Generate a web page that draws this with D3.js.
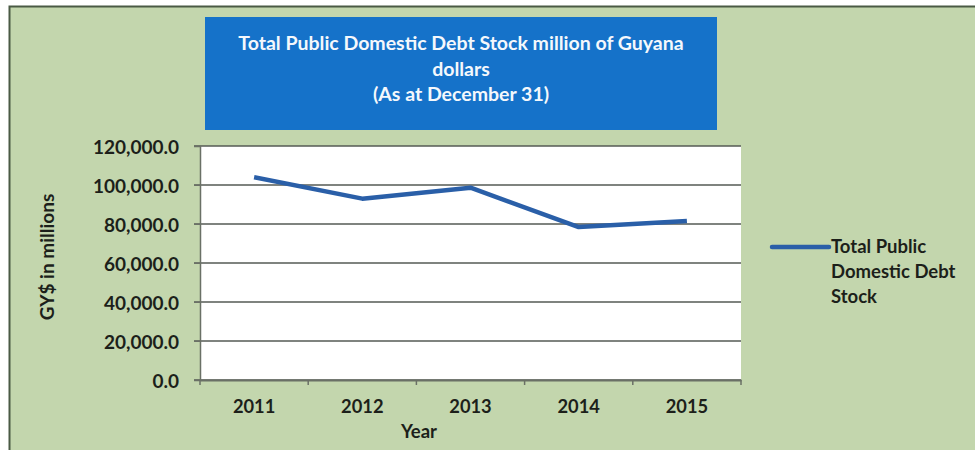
<!DOCTYPE html>
<html>
<head>
<meta charset="utf-8">
<script src="https://cdn.jsdelivr.net/npm/d3@7"></script>
<style>
  html, body { margin: 0; padding: 0; background: #ffffff; }
  svg { display: block; }
  text { font-family: Lato, "Open Sans", "DejaVu Sans", sans-serif; font-weight: 700; }
</style>
</head>
<body>
<svg id="chart" width="975" height="450"></svg>
<script>
// Series and labels
const years = ["2011", "2012", "2013", "2014", "2015"];
const debtStock = [104000, 93000, 98600, 78400, 81500];
const yTicks = [0, 20000, 40000, 60000, 80000, 100000, 120000];
const titleLines = ["Total Public Domestic Debt Stock million of Guyana", "dollars", "(As at December 31)"];
const legendLines = ["Total Public", "Domestic Debt", "Stock"];
const yAxisTitle = "GY$ in millions";
const xAxisTitle = "Year";

const svg = d3.select("#chart");
const W = 975, H = 450;
const ink = "#1c1f1a";
const lineBlue = "#2a5fa8";

// Chart area background with frame
svg.append("rect")
  .attr("x", 9.5).attr("y", 6.5)
  .attr("width", W).attr("height", H)
  .attr("fill", "#c3d6ad")
  .attr("stroke", "#4a5a44").attr("stroke-width", 2);

// Plot area
const plot = { left: 200, right: 741, top: 146, bottom: 380 };

const x = d3.scaleBand().domain(years).range([plot.left, plot.right]);
const y = d3.scaleLinear().domain([0, 120000]).range([plot.bottom, plot.top]);

svg.append("rect")
  .attr("x", plot.left).attr("y", plot.top)
  .attr("width", plot.right - plot.left).attr("height", plot.bottom - plot.top)
  .attr("fill", "#ffffff");

// Horizontal gridlines
svg.append("g")
  .selectAll("line")
  .data(yTicks)
  .join("line")
  .attr("x1", plot.left - 6).attr("x2", plot.right)
  .attr("y1", d => y(d)).attr("y2", d => y(d))
  .attr("stroke", "#555a55").attr("stroke-width", 1.6);

// Y axis
const fmt = v => d3.format(",.1f")(v);
const yAxis = svg.append("g")
  .attr("transform", `translate(${plot.left},0)`)
  .call(d3.axisLeft(y).tickValues(yTicks).tickFormat(fmt).tickSize(6).tickPadding(15));
yAxis.select(".domain").attr("stroke", "#6a7066").attr("stroke-width", 1.5);
yAxis.selectAll(".tick line").attr("stroke", "#6a7066");
yAxis.selectAll("text")
  .attr("font-size", 19).attr("fill", ink).attr("dy", "0.38em")
  .style("font-family", "Lato, 'Open Sans', sans-serif").style("font-weight", 700);

// X axis
const xAxis = svg.append("g")
  .attr("transform", `translate(0,${plot.bottom})`)
  .call(d3.axisBottom(x).tickSize(0).tickPadding(20));
xAxis.select(".domain").attr("stroke", "#6a7066").attr("stroke-width", 1.8);
xAxis.selectAll("text")
  .attr("font-size", 18.3).attr("fill", ink)
  .style("font-family", "Lato, 'Open Sans', sans-serif").style("font-weight", 700);

// Category boundary ticks
svg.append("g")
  .selectAll("line")
  .data(years.concat(["end"]))
  .join("line")
  .attr("x1", (d, i) => plot.left + i * x.step())
  .attr("x2", (d, i) => plot.left + i * x.step())
  .attr("y1", plot.bottom).attr("y2", plot.bottom + 5)
  .attr("stroke", "#6a7066").attr("stroke-width", 1.5);

// Data line
const line = d3.line()
  .x((d, i) => x(years[i]) + x.bandwidth() / 2)
  .y(d => y(d));

svg.append("path")
  .datum(debtStock)
  .attr("d", line)
  .attr("fill", "none")
  .attr("stroke", lineBlue)
  .attr("stroke-width", 4.5)
  .attr("stroke-linejoin", "round");

// Title box
svg.append("rect")
  .attr("x", 205).attr("y", 17)
  .attr("width", 512).attr("height", 113)
  .attr("fill", "#1572c9");

svg.append("g")
  .selectAll("text")
  .data(titleLines)
  .join("text")
  .attr("x", 461).attr("y", (d, i) => 50 + i * 25.5)
  .attr("text-anchor", "middle")
  .attr("font-size", 19.5)
  .attr("fill", "#f4f8fc")
  .text(d => d);

// Axis titles
svg.append("text")
  .attr("transform", "translate(54,257) rotate(-90)")
  .attr("text-anchor", "middle")
  .attr("font-size", 19)
  .attr("fill", ink)
  .text(yAxisTitle);

svg.append("text")
  .attr("x", 419).attr("y", 438)
  .attr("text-anchor", "middle")
  .attr("font-size", 18.5)
  .attr("fill", ink)
  .text(xAxisTitle);

// Legend
svg.append("line")
  .attr("x1", 772).attr("x2", 829)
  .attr("y1", 247).attr("y2", 247)
  .attr("stroke", lineBlue).attr("stroke-width", 4.5)
  .attr("stroke-linecap", "round");

svg.append("g")
  .selectAll("text")
  .data(legendLines)
  .join("text")
  .attr("x", 831).attr("y", (d, i) => 253 + i * 25)
  .attr("font-size", 18.5)
  .attr("fill", ink)
  .text(d => d);
</script>
</body>
</html>
